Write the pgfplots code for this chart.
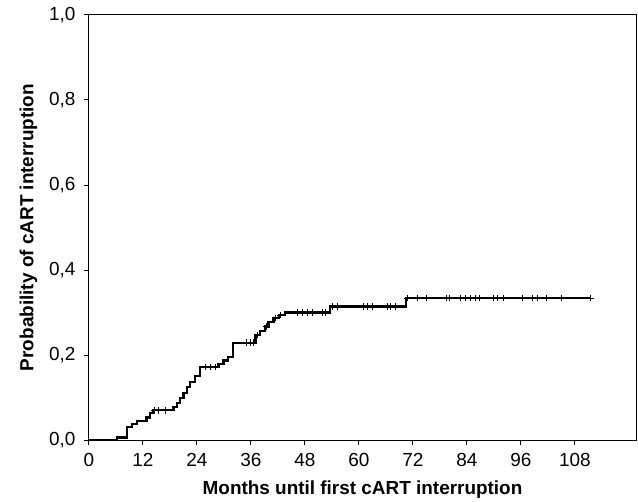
\documentclass[border=0pt]{standalone}
\usepackage{fontspec}
\setmainfont{Liberation Sans}
\usepackage{pgfplots}
\pgfplotsset{compat=1.18}

\begin{document}
\begin{tikzpicture}
\begin{axis}[
  scale only axis,
  width=547bp, height=425bp,
  xmin=0, xmax=121.6, ymin=0, ymax=1,
  xtick={0,12,...,108},
  ytick={0,0.2,...,1.0},
  xtick pos=bottom, ytick pos=left,
  tick align=outside,
  major tick length=5bp,
  axis line style={line width=1bp},
  every tick/.style={black, line width=1bp},
  /pgf/number format/assume math mode=true,
  y tick label style={/pgf/number format/fixed, /pgf/number format/fixed zerofill,
    /pgf/number format/precision=1, /pgf/number format/use comma},
  tick label style={font=\fontsize{19}{22}\selectfont},
  x tick label style={yshift=-5bp},
  y tick label style={xshift=-5bp},
  label style={font=\fontsize{19}{22}\selectfont\bfseries},
  xlabel={Months until first cART interruption},
  ylabel={Probability of cART interruption},
  xlabel style={yshift=-7bp},
  ylabel style={yshift=5bp},
  clip=false,
]
% step curve (cumulative probability)
\addplot[const plot, black, line width=2.2bp] coordinates {
 (0,0) (6.3,0.006) (8.5,0.031) (9.5,0.038) (10.6,0.045) (12.8,0.053)
 (13.6,0.063) (14.2,0.070) (18.8,0.078) (19.5,0.088) (20.3,0.099)
 (21.0,0.111) (21.8,0.124) (22.5,0.137) (23.6,0.150) (24.7,0.172)
 (28.8,0.179) (29.9,0.187) (30.9,0.195) (32.0,0.229) (37.0,0.247)
 (38.1,0.256) (39.2,0.267) (39.9,0.278) (41.0,0.287) (42.2,0.294)
 (43.5,0.300) (53.5,0.314) (70.5,0.334) (111.4,0.334)
};
% censored observations
\addplot[only marks, mark=+, mark size=3.4bp, black, line width=0.9bp] coordinates {
 (14.6,0.070) (15.5,0.070) (17.0,0.070)
 (25.8,0.172) (27.0,0.172) (28.1,0.172)
 (35.1,0.229) (35.9,0.229) (36.6,0.229)
 (37.5,0.247) (39.5,0.267) (41.4,0.287) (42.6,0.294)
 (46.3,0.300) (47.4,0.300) (48.5,0.300) (49.6,0.300) (51.8,0.300) (52.6,0.300)
 (54.1,0.314) (55.2,0.314) (61.0,0.314) (61.9,0.314) (63.0,0.314)
 (66.4,0.314) (67.0,0.314) (68.2,0.314)
 (70.8,0.334) (73.0,0.334) (75.1,0.334) (79.5,0.334) (80.2,0.334)
 (82.6,0.334) (83.7,0.334) (84.9,0.334) (85.8,0.334) (86.9,0.334)
 (90.0,0.334) (90.8,0.334) (92.1,0.334) (96.4,0.334) (98.6,0.334)
 (99.7,0.334) (101.8,0.334) (105.1,0.334) (111.4,0.334)
};
\end{axis}
\path (current axis.south west) ++(-89bp,-58bp) rectangle ++(638bp,498bp);
\end{tikzpicture}
\end{document}
